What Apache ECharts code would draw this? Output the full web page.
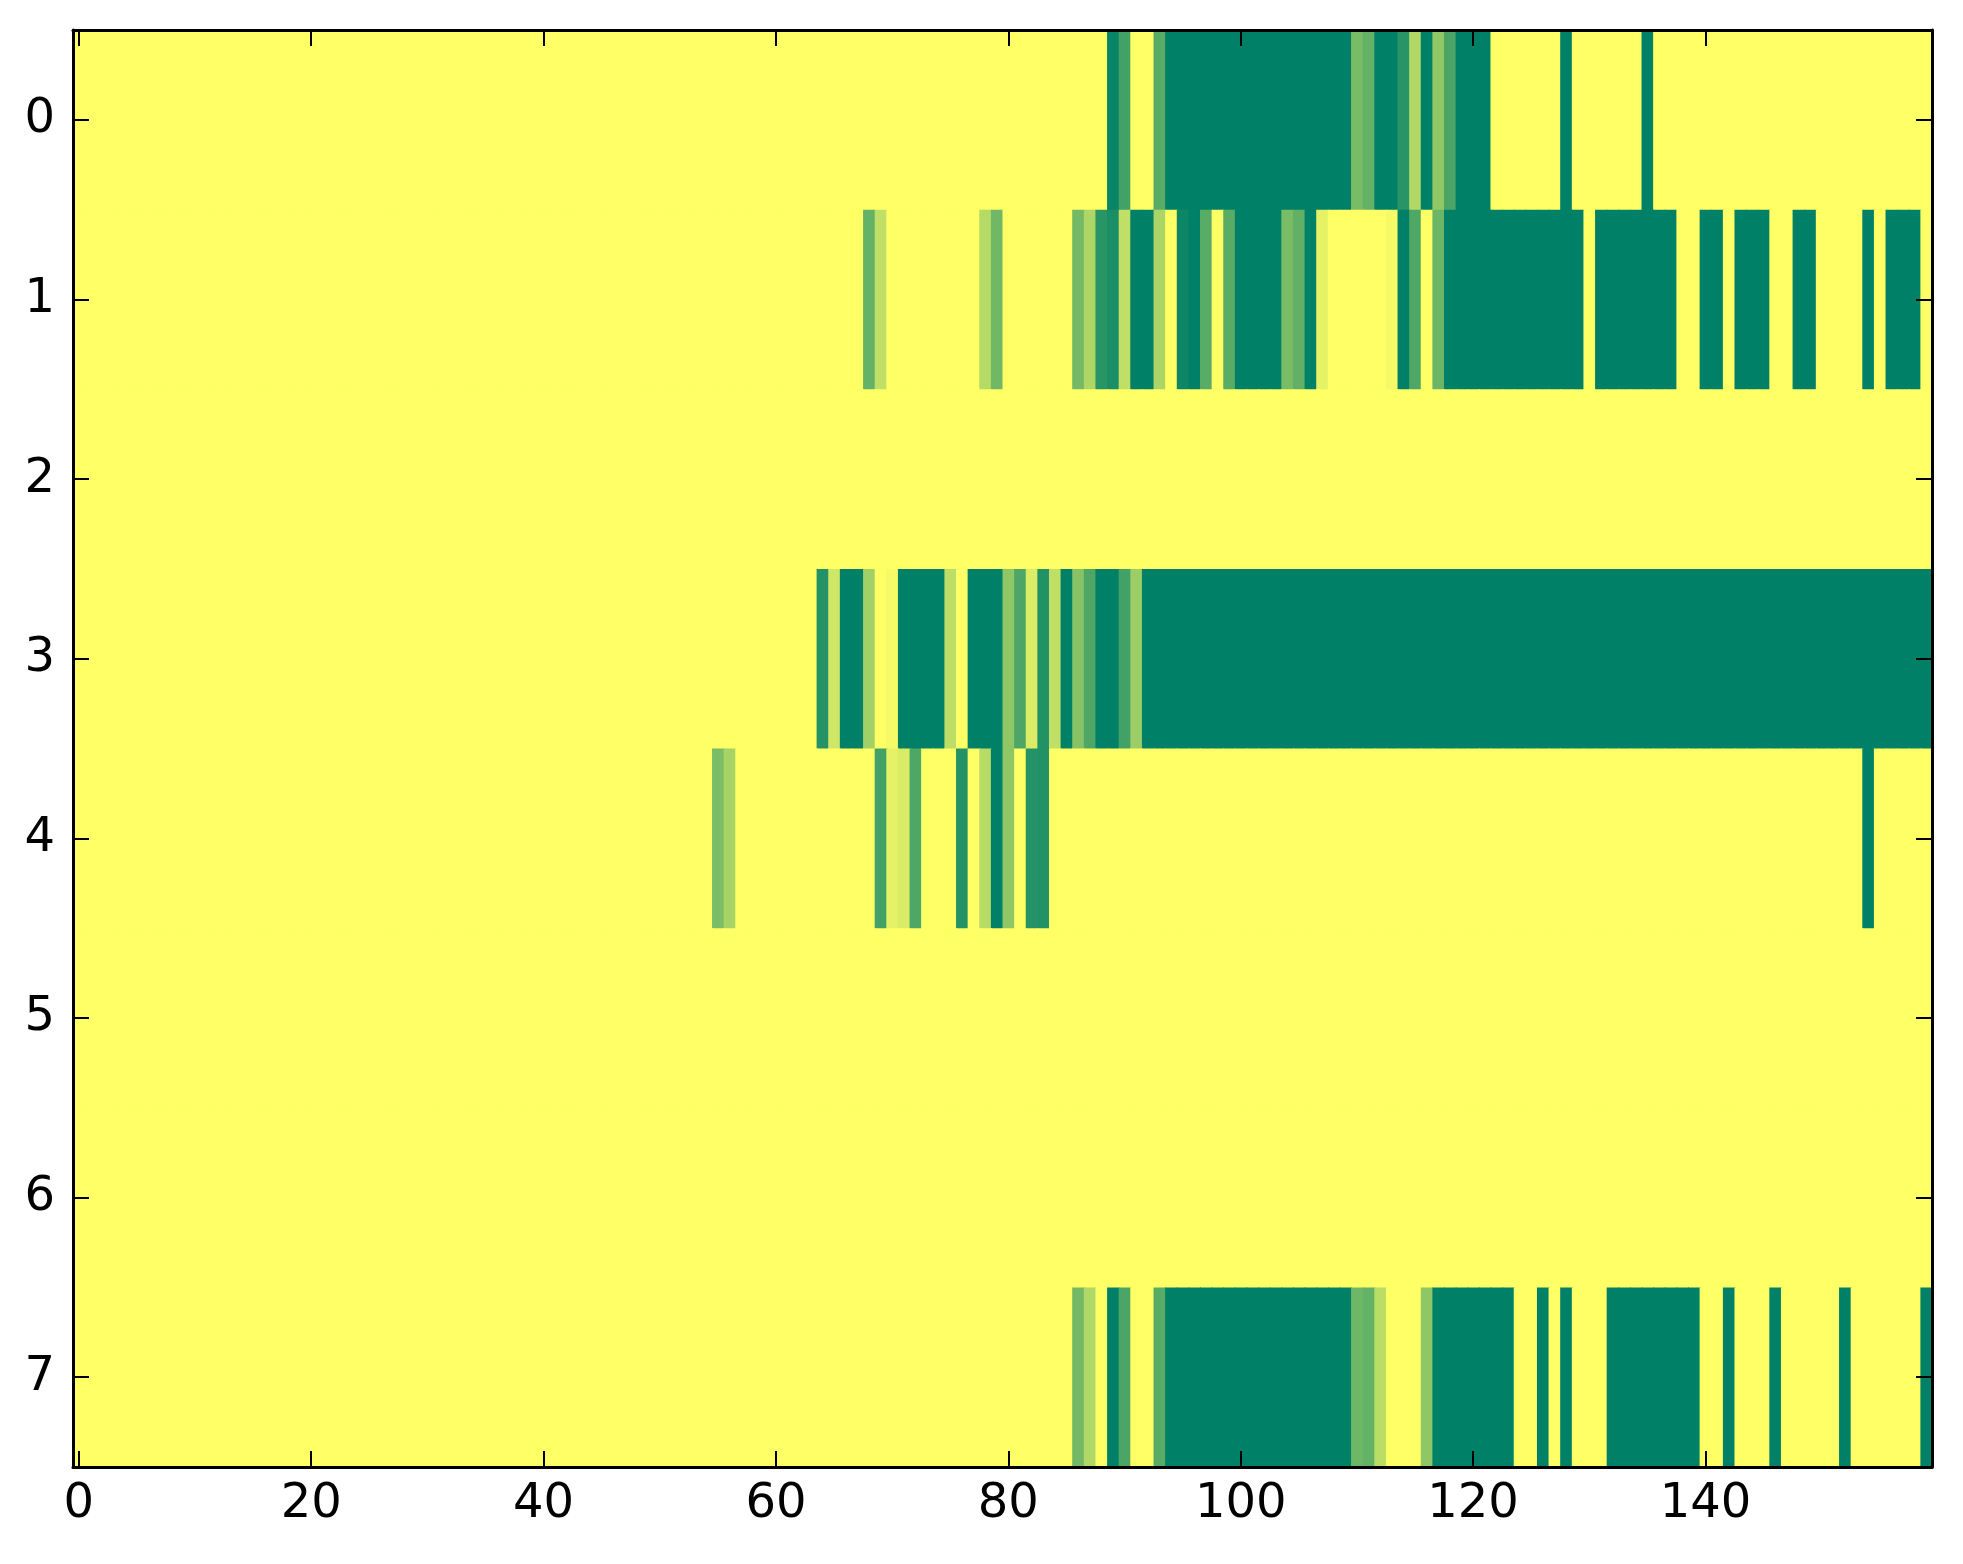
<!DOCTYPE html>
<html>
<head>
<meta charset="utf-8">
<script src="https://cdn.jsdelivr.net/npm/echarts@6/dist/echarts.min.js"></script>
<style>
html,body{margin:0;padding:0;background:#fff;}
#chart{width:1963px;height:1564px;}
</style>
</head>
<body>
<div id="chart"></div>
<script>
// Column categories (0..159) and row categories (0..7)
var nCols = 160;
var xCategories = [];
for (var i = 0; i < nCols; i++) xCategories.push(String(i));
var yCategories = ['0','1','2','3','4','5','6','7'];
var xTickLabels = ['0','20','40','60','80','100','120','140'];

// Each row: runs of [fromCol, toCol, value]
var row0 = [[0,88,1],[89,89,0.03],[90,90,0.26],[91,92,1],[93,93,0.35],[94,109,0],[110,110,0.47],[111,111,0.39],[112,113,0],[114,114,0.16],[115,115,0.69],[116,116,0],[117,117,0.57],[118,118,0.29],[119,121,0],[122,127,1],[128,128,0],[129,134,1],[135,135,0],[136,159,1]];
var row1 = [[0,67,1],[68,68,0.39],[69,69,0.75],[70,77,1],[78,78,0.71],[79,79,0.44],[80,85,1],[86,86,0.45],[87,87,0.68],[88,88,0.16],[89,89,0.11],[90,90,0.75],[91,92,0],[93,93,0.67],[94,94,1],[95,95,0.05],[96,96,0],[97,97,0.35],[98,98,1],[99,99,0.35],[100,103,0],[104,104,0.47],[105,105,0.38],[106,106,0],[107,107,0.9],[108,112,1],[113,113,0.96],[114,114,0],[115,115,0.31],[116,116,1],[117,117,0.42],[118,129,0],[130,130,1],[131,137,0],[138,139,1],[140,141,0],[142,142,1],[143,145,0],[146,147,1],[148,149,0],[150,153,1],[154,154,0],[155,155,1],[156,158,0],[159,159,1]];
var row2 = [[0,159,1]];
var row3 = [[0,63,1],[64,64,0.14],[65,65,0.81],[66,67,0],[68,68,0.63],[69,69,1],[70,70,0.96],[71,74,0],[75,75,0.74],[76,76,1],[77,79,0],[80,80,0.56],[81,81,0.3],[82,82,0.86],[83,83,0.13],[84,84,0.75],[85,85,0],[86,86,0.53],[87,87,0.31],[88,89,0],[90,90,0.26],[91,91,0.61],[92,159,0]];
var row4 = [[0,54,1],[55,55,0.48],[56,56,0.65],[57,68,1],[69,69,0.26],[70,70,0.9],[71,71,0.85],[72,72,0.31],[73,75,1],[76,76,0.14],[77,77,1],[78,78,0.72],[79,79,0],[80,80,0.56],[81,81,1],[82,82,0.15],[83,83,0.13],[84,153,1],[154,154,0],[155,159,1]];
var row5 = [[0,159,1]];
var row6 = [[0,159,1]];
var row7 = [[0,85,1],[86,86,0.45],[87,87,0.69],[88,88,1],[89,89,0],[90,90,0.29],[91,92,1],[93,93,0.35],[94,109,0],[110,110,0.43],[111,111,0.39],[112,112,0.73],[113,115,1],[116,116,0.56],[117,123,0],[124,125,1],[126,126,0],[127,127,1],[128,128,0],[129,131,1],[132,139,0],[140,141,1],[142,142,0],[143,145,1],[146,146,0],[147,151,1],[152,152,0],[153,158,1],[159,159,0]];

var rows = [row0,row1,row2,row3,row4,row5,row6,row7];

var data = [];
rows.forEach(function(runs, r){
  runs.forEach(function(run){
    for (var c = run[0]; c <= run[1]; c++) data.push([c, r, run[2]]);
  });
});

var tickShow = function(idx){ return xTickLabels.indexOf(String(idx)) >= 0; };
var font = 'DejaVu Sans';
var axisLine = {show:true, lineStyle:{color:'#000', width:3}};
var tick = {show:true, inside:true, length:16, alignWithLabel:true, lineStyle:{color:'#000', width:2}};

var chart = echarts.init(document.getElementById('chart'));
chart.setOption({
  animation:false,
  backgroundColor:'#fff',
  grid:{left:73, right:31, top:30, bottom:97, containLabel:false},
  xAxis:[
    {type:'category', data:xCategories, position:'bottom', boundaryGap:true, z:10,
     axisLine:axisLine, axisTick:Object.assign({}, tick, {interval:function(i){return tickShow(i);}}),
     axisLabel:{show:true, interval:function(i){return tickShow(i);}, color:'#000', fontSize:48, fontFamily:font, margin:14},
     splitLine:{show:false}},
    {type:'category', data:xCategories, position:'top', boundaryGap:true, z:10,
     axisLine:axisLine, axisTick:Object.assign({}, tick, {interval:function(i){return tickShow(i);}}),
     axisLabel:{show:false}, splitLine:{show:false}}
  ],
  yAxis:[
    {type:'category', data:yCategories, inverse:true, position:'left', z:10,
     axisLine:axisLine, axisTick:Object.assign({}, tick, {interval:0}),
     axisLabel:{show:true, interval:0, color:'#000', fontSize:48, fontFamily:font, margin:18},
     splitLine:{show:false}},
    {type:'category', data:yCategories, inverse:true, position:'right', z:10,
     axisLine:axisLine, axisTick:Object.assign({}, tick, {interval:0}),
     axisLabel:{show:false}, splitLine:{show:false}}
  ],
  visualMap:{show:false, min:0, max:1, dimension:2, calculable:false, seriesIndex:0,
             inRange:{color:['#008066','#ffff66']}},
  series:[{
    type:'custom', xAxisIndex:0, yAxisIndex:0, data:data, progressive:0, z:2,
    encode:{x:0, y:1},
    renderItem:function(params, api){
      var p = api.coord([api.value(0), api.value(1)]);
      var s = api.size([1, 1]);
      return {
        type:'rect',
        shape:{x:p[0]-s[0]/2, y:p[1]-s[1]/2, width:s[0]+1, height:s[1]+1},
        style:{fill:api.visual('color'), stroke:null}
      };
    }
  }]
});
</script>
</body>
</html>
